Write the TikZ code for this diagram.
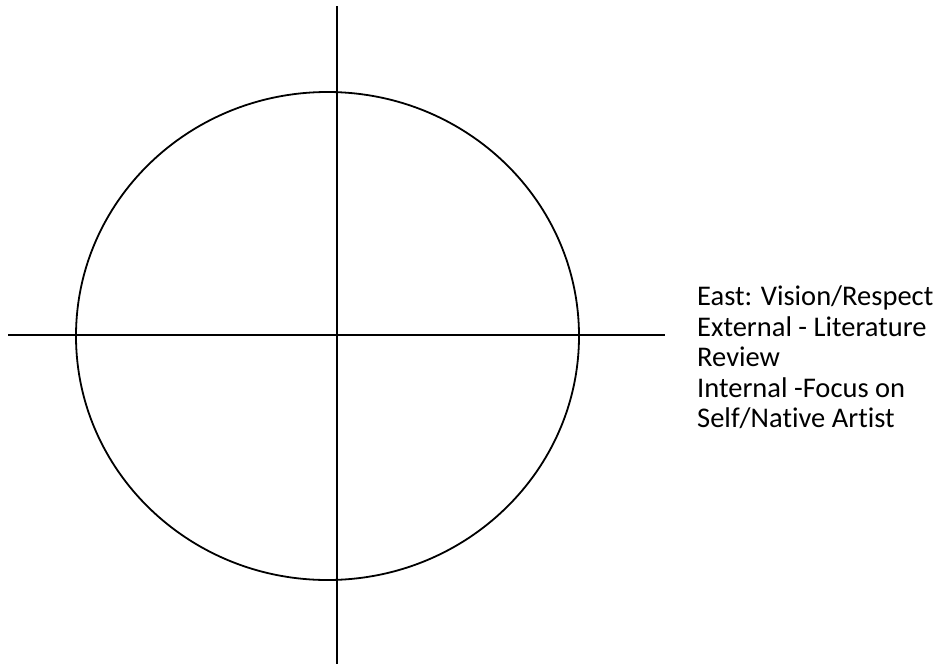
\documentclass[tikz,border=0pt]{standalone}
\usepackage{fontspec}
\setmainfont{Carlito}[Ligatures=NoCommon]
\usetikzlibrary{positioning}

\begin{document}
\begin{tikzpicture}[
  x=1pt, y=-1pt,
  axis/.style={draw, line width=1.8pt},
  ring/.style={draw, line width=1.8pt},
  note/.style={inner sep=0pt, align=left, font=\fontsize{28.5}{30.5}\selectfont}
]
\useasboundingbox (0,0) rectangle (950,664);
\coordinate (top) at (337,6);
\coordinate (bottom) at (337,664);
\coordinate (left) at (8,335);
\coordinate (right) at (665,335);
\draw[ring] (327.5,336) ellipse [x radius=251.5pt, y radius=244pt];
\draw[axis] (top) -- (bottom);
\draw[axis] (left) -- (right);
\node[note, anchor=north west] (east) at (697,286) {East: Vision/Respect\\External - Literature\\Review\\Internal -Focus on\\Self/Native Artist};
\end{tikzpicture}
\end{document}
